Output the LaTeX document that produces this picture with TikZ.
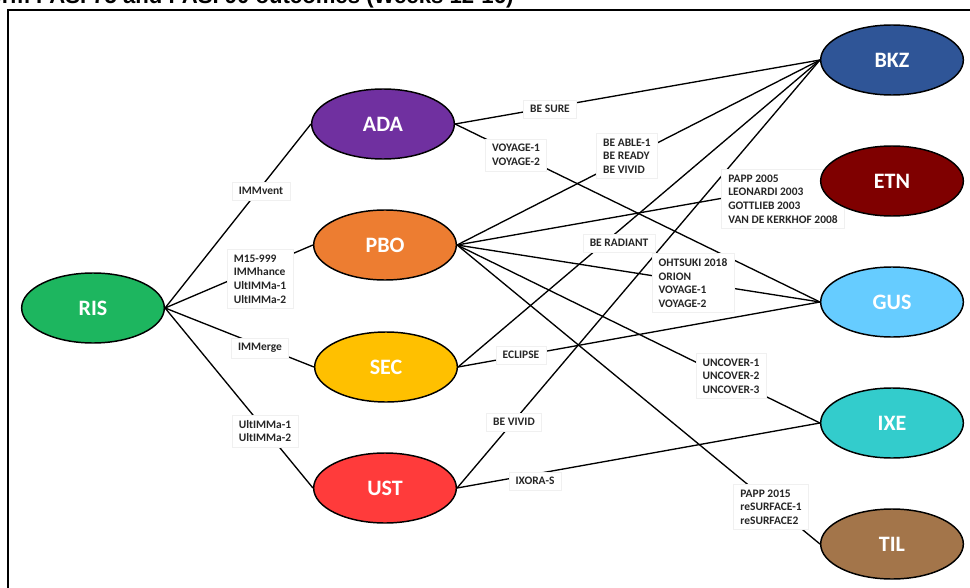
\documentclass[tikz,border=0pt]{standalone}
\usepackage{fontspec}
\usetikzlibrary{shapes.geometric}
\newfontfamily\calfont{Carlito}
\newfontfamily\ttlfont{Liberation Sans}
\definecolor{cRIS}{HTML}{1DB65F}
\definecolor{cADA}{HTML}{7030A0}
\definecolor{cPBO}{HTML}{ED7D31}
\definecolor{cSEC}{HTML}{FFC000}
\definecolor{cUST}{HTML}{FF3B3B}
\definecolor{cBKZ}{HTML}{2F5597}
\definecolor{cETN}{HTML}{7F0000}
\definecolor{cGUS}{HTML}{66CCFF}
\definecolor{cIXE}{HTML}{33CCCC}
\definecolor{cTIL}{HTML}{A3754A}
\pgfdeclarelayer{connlayer}
\pgfdeclarelayer{lablayer}
\pgfsetlayers{connlayer,lablayer,main}
\begin{document}
\begin{tikzpicture}[x=0.75pt,y=-0.75pt,
  ell/.style={ellipse, draw=black, line width=1.1pt, minimum width=107pt, minimum height=52.5pt, inner sep=0pt,
    font=\calfont\bfseries\fontsize{16.5}{18}\selectfont, text=white},
  lab/.style={fill=white, draw=black!6, line width=0.4pt, align=left,
    font=\calfont\bfseries\fontsize{8.6}{10.2}\selectfont, text=black!85, inner xsep=5pt, inner ysep=4pt},
  conn/.style={line width=1pt, black}]
\useasboundingbox (0,0) rectangle (970,588);
\clip (0,0) rectangle (970,588);
% frame and cut title
\draw[line width=1.1pt] (8,10) rectangle (990,610);
\node[anchor=base west, inner sep=0pt, font=\ttlfont\bfseries\fontsize{16.6}{18}\selectfont] (title) at (-12,4) {orm PASI 75 and PASI 90 outcomes (Weeks 12-16)};
% ellipses
\node[ell, fill=cRIS] (RIS) at (93,308) {RIS};
\node[ell, fill=cADA] (ADA) at (383,124) {ADA};
\node[ell, fill=cPBO] (PBO) at (385,245) {PBO};
\node[ell, fill=cSEC] (SEC) at (386,367) {SEC};
\node[ell, fill=cUST] (UST) at (385,488) {UST};
\node[ell, fill=cBKZ] (BKZ) at (892,60) {BKZ};
\node[ell, fill=cETN] (ETN) at (892,181) {ETN};
\node[ell, fill=cGUS] (GUS) at (892,302) {GUS};
\node[ell, fill=cIXE] (IXE) at (892,423) {IXE};
\node[ell, fill=cTIL] (TIL) at (892,544) {TIL};
% connectors
\begin{pgfonlayer}{connlayer}
\draw[conn] (RIS.east) -- (ADA.west);
\draw[conn] (RIS.east) -- (PBO.west);
\draw[conn] (RIS.east) -- (SEC.west);
\draw[conn] (RIS.east) -- (UST.west);
\draw[conn] (ADA.east) -- (BKZ.west);
\draw[conn] (ADA.east) -- (GUS.west);
\draw[conn] (PBO.east) -- (BKZ.west);
\draw[conn] (PBO.east) -- (ETN.west);
\draw[conn] (PBO.east) -- (GUS.west);
\draw[conn] (PBO.east) -- (IXE.west);
\draw[conn] (PBO.east) -- (TIL.west);
\draw[conn] (SEC.east) -- (BKZ.west);
\draw[conn] (SEC.east) -- (GUS.west);
\draw[conn] (UST.east) -- (BKZ.west);
\draw[conn] (UST.east) -- (IXE.west);
\end{pgfonlayer}
% labels
\begin{pgfonlayer}{lablayer}
\node[lab] (l1) at (261,191) {IMMvent};
\node[lab] (l2) at (260,279) {M15-999\\IMMhance\\UltIMMa-1\\UltIMMa-2};
\node[lab] (l3) at (260,348) {IMMerge};
\node[lab] (l4) at (265,431) {UltIMMa-1\\UltIMMa-2};
\node[lab] (l5) at (550,109) {BE SURE};
\node[lab] (l6) at (516,155) {VOYAGE-1\\VOYAGE-2};
\node[lab] (l7) at (627,156) {BE ABLE-1\\BE READY\\BE VIVID};
\node[lab] (l8) at (783,199) {PAPP 2005\\LEONARDI 2003\\GOTTLIEB 2003\\VAN DE KERKHOF 2008};
\node[lab] (l9) at (619,243) {BE RADIANT};
\node[lab] (l10) at (693,283) {OHTSUKI 2018\\ORION\\VOYAGE-1\\VOYAGE-2};
\node[lab] (l11) at (521,355) {ECLIPSE};
\node[lab] (l12) at (731,376) {UNCOVER-1\\UNCOVER-2\\UNCOVER-3};
\node[lab] (l13) at (514,422) {BE VIVID};
\node[lab] (l14) at (535,481) {IXORA-S};
\node[lab] (l15) at (771,507) {PAPP 2015\\reSURFACE-1\\reSURFACE2};
\end{pgfonlayer}
\end{tikzpicture}
\end{document}
